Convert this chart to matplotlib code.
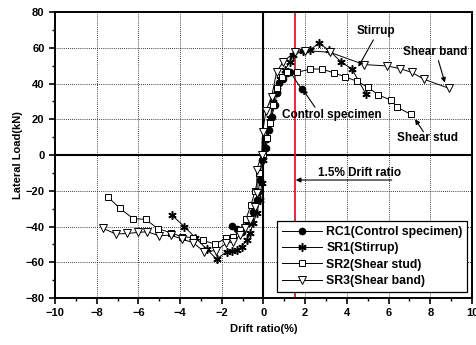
import matplotlib
matplotlib.use("Agg")
import matplotlib.pyplot as plt
from matplotlib.ticker import MultipleLocator

plt.rcParams['font.family'] = ['Liberation Sans', 'DejaVu Sans']
plt.rcParams['font.weight'] = 'bold'

# RC1 (control specimen)
rc1_x = [-1.53, -1.29, -1.05, -0.73, -0.49, -0.33, -0.25, -0.17, -0.09, 0.12,
         0.28, 0.39, 0.55, 0.63, 0.76, 0.92, 1.11, 1.27, 1.83]
rc1_y = [-39.8, -41.3, -42.9, -38.2, -31.7, -25.2, -20.5, -14.0, -2.8, 3.7,
         14.0, 21.5, 28.0, 34.5, 40.1, 42.4, 46.1, 46.6, 36.8]

# SR1 (stirrup)
sr1_x = [-4.40, -3.79, -3.27, -2.72, -2.25, -1.77, -1.53, -1.29, -1.05, -0.81,
         -0.65, -0.49, -0.33, -0.17, -0.09, 0.00, 0.07, 0.31, 0.47, 0.63,
         0.79, 1.03, 1.27, 1.43, 1.91, 2.23, 2.66, 3.14, 3.71, 4.25, 4.90]
sr1_y = [-33.6, -40.1, -46.2, -52.7, -58.3, -54.1, -53.5, -53.2, -51.3, -47.6,
         -43.8, -38.2, -32.6, -25.2, -15.8, -3.0, 8.4, 20.5, 29.9, 36.4,
         42.4, 47.6, 52.2, 56.0, 58.4, 58.8, 62.5, 58.6, 52.2, 48.0, 34.4]

# SR2 (shear stud)
sr2_x = [-7.44, -6.88, -6.25, -5.65, -5.07, -4.46, -3.92, -3.40, -2.89, -2.33,
         -1.78, -1.45, -1.13, -0.85, -0.60, -0.40, -0.20, 0.00, 0.15, 0.31,
         0.47, 0.63, 0.87, 1.11, 1.63, 2.25, 2.80, 3.36, 3.91, 4.47, 5.00,
         5.51, 6.13, 6.39, 7.07]
sr2_y = [-23.7, -29.9, -35.6, -36.0, -41.2, -43.4, -45.7, -46.2, -47.8, -49.8,
         -46.5, -46.1, -42.0, -36.0, -28.0, -20.0, -10.0, 0.5, 9.3, 17.7,
         28.0, 37.3, 43.8, 46.6, 46.3, 48.1, 48.1, 46.0, 43.8, 41.3, 38.0,
         33.6, 30.6, 26.9, 22.7]

# SR3 (shear band)
sr3_x = [-7.71, -7.07, -6.56, -6.00, -5.57, -5.01, -4.45, -3.92, -3.37, -2.85,
         -2.28, -1.80, -1.45, -1.13, -0.89, -0.65, -0.41, -0.30, -0.33, -0.09,
         -0.04, 0.12, 0.39, 0.63, 0.95, 1.51, 1.99, 3.18, 4.82, 5.94, 6.55,
         7.10, 7.70, 8.90]
sr3_y = [-41.0, -44.2, -43.9, -43.3, -42.9, -45.2, -44.8, -47.0, -49.1, -54.0,
         -53.5, -49.5, -48.5, -44.8, -41.0, -36.4, -28.9, -21.0, -8.4, 0.0,
         13.0, 24.8, 32.6, 46.6, 52.2, 57.8, 58.4, 57.5, 50.6, 49.8, 48.3,
         46.3, 42.4, 37.3]

drift_limit = 1.5

fig = plt.figure(figsize=(4.77, 3.45), dpi=100)
ax = fig.add_axes([0.1153, 0.1362, 0.8742, 0.829])

ax.set_xlim(-10, 10)
ax.set_ylim(-80, 80)
ax.xaxis.set_major_locator(MultipleLocator(2))
ax.xaxis.set_minor_locator(MultipleLocator(1))
ax.yaxis.set_major_locator(MultipleLocator(20))
ax.yaxis.set_minor_locator(MultipleLocator(10))
ax.grid(True, which='major', color='k', linestyle=(0, (1, 1.5)), linewidth=0.6)
ax.tick_params(which='major', direction='out', length=4, width=1.2, labelsize=8)
ax.tick_params(which='minor', direction='out', length=2, width=1.0)
for s in ax.spines.values():
    s.set_linewidth(1.4)

ax.axhline(0, color='k', lw=1.5, zorder=2)
ax.axvline(0, color='k', lw=1.5, zorder=2)
ax.axvline(drift_limit, color='#e8191c', lw=1.3, zorder=2)

line_kw = dict(color='k', lw=0.7, zorder=3)
ax.plot(rc1_x, rc1_y, marker='o', ms=4.5, mfc='k', mec='k',
        label='RC1(Control specimen)', **line_kw)
ax.plot(sr1_x, sr1_y, marker=(6, 2, 0), ms=6, mec='k', mew=1.1,
        label='SR1(Stirrup)', **line_kw)
ax.plot(sr2_x, sr2_y, marker='s', ms=4.3, mfc='white', mec='k', mew=0.7,
        label='SR2(Shear stud)', **line_kw)
ax.plot(sr3_x, sr3_y, marker='v', ms=5.3, mfc='white', mec='k', mew=0.7,
        label='SR3(Shear band)', **line_kw)

# callouts: text position, arrow tail, arrow head
arrow = dict(arrowstyle='-|>', color='k', lw=0.8, mutation_scale=7,
             shrinkA=0, shrinkB=0)
callouts = [
    ('Stirrup', (5.38, 69.6), (5.27, 64.4), (4.55, 49.4)),
    ('Shear band', (8.23, 57.5), (8.39, 52.8), (8.7, 40.5)),
    ('Control specimen', (3.3, 22.4), (2.47, 26.7), (1.88, 36.8)),
    ('Shear stud', (7.87, 9.7), (7.67, 13.0), (7.27, 20.0)),
]
for label, txt, tail, head in callouts:
    ax.text(txt[0], txt[1], label, fontsize=8.5, ha='center', va='center', zorder=5)
    ax.annotate('', xy=head, xytext=tail, arrowprops=arrow)

ax.text(4.63, -10.3, '1.5% Drift ratio', fontsize=8.5, ha='center', va='center')
ax.annotate('', xy=(drift_limit + 0.05, -14), xytext=(6.15, -14), arrowprops=arrow)

ax.set_xlabel('Drift ratio(%)', fontsize=8, fontweight='bold', labelpad=4)
ax.set_ylabel('Lateral Load(kN)', fontsize=8, fontweight='bold', labelpad=2)

leg = ax.legend(loc='lower right', bbox_to_anchor=(0.989, 0.022), fontsize=8.8,
                handlelength=3.3, handletextpad=0.3, labelspacing=0.35,
                borderpad=0.4, borderaxespad=0, fancybox=False, framealpha=1,
                edgecolor='k')
leg.get_frame().set_linewidth(0.9)

fig.savefig('out.png', dpi=100)
